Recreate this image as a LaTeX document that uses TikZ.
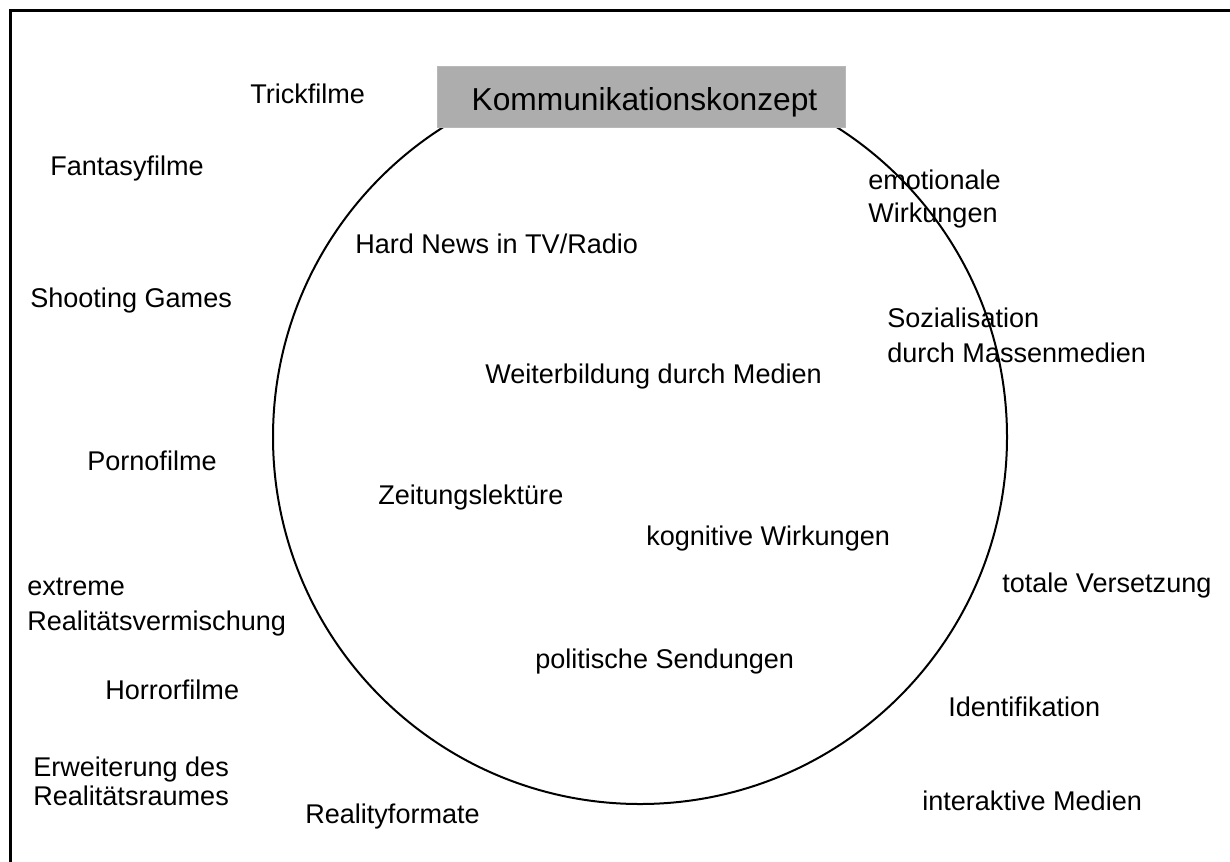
\documentclass[tikz,border=0pt]{standalone}
\usepackage{fontspec}
\setmainfont{Liberation Sans}
\begin{document}
\begin{tikzpicture}[x=0.75pt, y=-0.75pt,
  lbl/.style={anchor=base west, inner sep=0pt, align=left,
    font=\fontsize{20.3}{24.75}\selectfont},
  titlebox/.style={fill=black!32, draw=black!28, line width=0.4pt,
    minimum width=306pt, minimum height=45.75pt, inner sep=0pt},
  titletext/.style={anchor=base, inner sep=0pt,
    font=\fontsize{23.8}{28}\selectfont},
  ring/.style={draw, circle, line width=1.5pt, minimum size=550.5pt, inner sep=0pt}]
  \useasboundingbox (0,0) rectangle (1230,861);
  % outer frame, running past the page on the right and bottom
  \begin{scope}
    \clip (0,0) rectangle (1230,861);
    \draw[line width=2.25pt] (10,10.5) rectangle (1260,900);
  \end{scope}

  % central circle and title box on top of it
  \node[ring] (ring) at (640,437) {};
  \node[titlebox] (title) at (641,96.5) {};
  \node[titletext] (titlelbl) at (644.5,110) {Kommunikationskonzept};

  % labels outside the circle, left side (base = last line)
  \node[lbl] (trick)   at (250,103) {Trickfilme};
  \node[lbl] (fantasy) at (50,175)  {Fantasyfilme};
  \node[lbl] (shoot)   at (30,307)  {Shooting Games};
  \node[lbl] (porno)   at (87,470)  {Pornofilme};
  \node[lbl] (extreme) at (27,630)  {extreme\\[1pt]Realitätsvermischung};
  \node[lbl] (horror)  at (105,699) {Horrorfilme};
  \node[lbl] (erweit)  at (33,805)  {Erweiterung des\\[-3pt]Realitätsraumes};
  \node[lbl] (reality) at (305,823) {Realityformate};

  % labels inside the circle
  \node[lbl] (hard)    at (355,253) {Hard News in TV/Radio};
  \node[lbl] (weiter)  at (485,383) {Weiterbildung durch Medien};
  \node[lbl] (zeitung) at (378,504) {Zeitungslektüre};
  \node[lbl] (kogn)    at (646,545) {kognitive Wirkungen};
  \node[lbl] (polit)   at (535,668) {politische Sendungen};

  % labels on the right side
  \node[lbl] (emot)    at (868,222) {emotionale\\Wirkungen};
  \node[lbl] (sozial)  at (887,362) {Sozialisation\\[1pt]durch Massenmedien};
  \node[lbl] (totale)  at (1002,592) {totale Versetzung};
  \node[lbl] (ident)   at (948,716) {Identifikation};
  \node[lbl] (interakt) at (922,810) {interaktive Medien};
\end{tikzpicture}
\end{document}
